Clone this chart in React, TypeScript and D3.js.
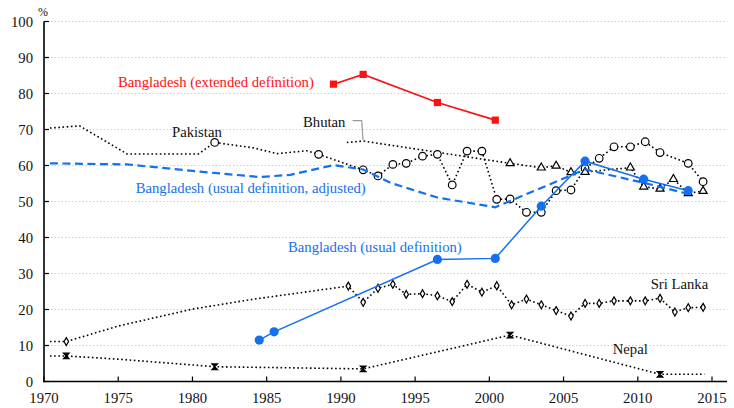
import React from "react";
import * as d3 from "d3";

// [year, value, marker(1) or not(0)]
const pakistan: [number, number, number][] = [
  [1970.4, 70.4, 0], [1972.4, 71.0, 0], [1975.6, 63.2, 0], [1980.4, 63.2, 0],
  [1981.5, 66.4, 1], [1984.1, 64.9, 0], [1985.7, 63.3, 0], [1987.7, 64.1, 0],
  [1988.5, 63.1, 1], [1991.5, 58.8, 1], [1992.5, 57.1, 1], [1993.5, 60.3, 1],
  [1994.4, 60.6, 1], [1995.5, 62.6, 1], [1996.5, 63.1, 1], [1997.5, 54.6, 1],
  [1998.5, 64.0, 1], [1999.5, 64.0, 1], [2000.5, 50.6, 1], [2001.4, 50.7, 1],
  [2002.5, 47.0, 1], [2003.5, 47.0, 1], [2004.5, 53.0, 1], [2005.5, 53.2, 1],
  [2006.45, 59.2, 1], [2007.4, 62.0, 1], [2008.4, 65.2, 1], [2009.5, 65.2, 1],
  [2010.5, 66.6, 1], [2011.5, 63.6, 1], [2013.4, 60.6, 1], [2014.4, 55.5, 1],
];

const bhutan: [number, number, number][] = [
  [1990.4, 66.4, 0], [1991.5, 66.8, 0], [2001.4, 60.6, 1], [2003.5, 59.4, 1],
  [2004.5, 59.9, 1], [2005.5, 58.1, 1], [2006.45, 58.2, 1], [2009.5, 59.4, 1],
  [2010.4, 54.1, 1], [2011.5, 53.5, 1], [2012.4, 56.2, 1], [2013.4, 52.3, 1],
  [2014.4, 52.9, 1],
];

const sriLanka: [number, number, number][] = [
  [1970.4, 11.1, 0], [1971.5, 11.1, 1], [1975.0, 15.4, 0], [1980.0, 20.1, 0],
  [1984.0, 22.8, 0], [1990.5, 26.5, 1], [1991.5, 22.0, 1], [1992.5, 25.9, 1],
  [1993.5, 27.0, 1], [1994.4, 24.2, 1], [1995.5, 24.4, 1], [1996.5, 23.8, 1],
  [1997.5, 22.2, 1], [1998.5, 27.0, 1], [1999.5, 24.8, 1], [2000.5, 26.6, 1],
  [2001.5, 21.3, 1], [2002.5, 22.9, 1], [2003.5, 21.3, 1], [2004.5, 19.7, 1],
  [2005.5, 18.2, 1], [2006.45, 21.7, 1], [2007.4, 21.7, 1], [2008.4, 22.4, 1],
  [2009.5, 22.4, 1], [2010.5, 22.4, 1], [2011.5, 23.1, 1], [2012.5, 19.3, 1],
  [2013.4, 20.5, 1], [2014.4, 20.6, 1],
];

const nepal: [number, number, number][] = [
  [1970.4, 7.1, 0], [1971.5, 7.1, 1], [1975.0, 6.2, 0], [1980.0, 4.6, 0],
  [1981.5, 4.1, 1], [1985.0, 3.9, 0], [1991.5, 3.5, 1], [2001.4, 12.9, 1],
  [2011.5, 2.0, 1], [2014.5, 2.0, 0],
];

const bdExtended: [number, number][] = [
  [1989.5, 82.6], [1991.5, 85.3], [1996.5, 77.5], [2000.4, 72.6],
];

const bdUsual: [number, number][] = [
  [1984.5, 11.5], [1985.5, 13.8], [1996.5, 33.9], [2000.4, 34.2],
  [2003.5, 48.7], [2006.45, 61.2], [2010.4, 56.2], [2013.4, 53.0],
];

const bdAdjusted: [number, number][] = [
  [1970.4, 60.6], [1975.6, 60.3], [1980.5, 58.3], [1984.5, 56.8],
  [1986.6, 57.4], [1989.5, 60.1], [1991.5, 58.9], [1993.4, 55.1],
  [1996.5, 51.1], [2000.4, 48.4], [2006.45, 58.9], [2010.4, 55.2],
  [2013.4, 52.1],
];

const xTicks = [1970, 1975, 1980, 1985, 1990, 1995, 2000, 2005, 2010, 2015];
const yTicks = [0, 10, 20, 30, 40, 50, 60, 70, 80, 90, 100];

const RED = "#ff1010";
const BLUE = "#1470f0";
const FONT = "Liberation Serif, DejaVu Serif, serif";

export default function App() {
  const W = 734, H = 408;
  const x = d3.scaleLinear().domain([1970, 2015]).range([44, 712]);
  const y = d3.scaleLinear().domain([0, 100]).range([381.5, 21.5]);
  const line = d3.line<any>().x((d) => x(d[0])).y((d) => y(d[1]));

  const dotted = { fill: "none", stroke: "#000", strokeWidth: 1.6, strokeDasharray: "1.6 2.6" };
  const tri = d3.symbol().type(d3.symbolTriangle).size(28)()!;
  const dia = d3.symbol().type(d3.symbolDiamond).size(18)()!;
  const sq = d3.symbol().type(d3.symbolSquare).size(52)()!;
  const hour = "M-2.8,-2.8L2.8,-2.8L-2.8,2.8L2.8,2.8Z";
  const ts = { fontFamily: FONT, fontSize: "14.7px" };

  return (
    <svg width={W} height={H} style={{ position: "absolute", left: 0, top: 0, background: "#fff" }}>
      {yTicks.filter((t) => t > 0).map((t) => (
        <line key={"g" + t} x1={x(1970)} x2={727} y1={y(t)} y2={y(t)}
          stroke="#cfcfcf" strokeWidth={1} strokeDasharray="1.5 2" />
      ))}

      <path d={line(pakistan)!} {...dotted} />
      <path d={line(bhutan)!} {...dotted} />
      <path d={line(sriLanka)!} {...dotted} />
      <path d={line(nepal)!} {...dotted} />

      {pakistan.filter((d) => d[2]).map((d, i) => (
        <circle key={"p" + i} cx={x(d[0])} cy={y(d[1])} r={3.8} fill="#fff" stroke="#000" strokeWidth={1.2} />
      ))}
      {bhutan.filter((d) => d[2]).map((d, i) => (
        <path key={"b" + i} d={tri} transform={`translate(${x(d[0])},${y(d[1])})`} fill="#fff" stroke="#000" strokeWidth={1.2} />
      ))}
      {sriLanka.filter((d) => d[2]).map((d, i) => (
        <path key={"s" + i} d={dia} transform={`translate(${x(d[0])},${y(d[1])})`} fill="#fff" stroke="#000" strokeWidth={1.2} />
      ))}
      {nepal.filter((d) => d[2]).map((d, i) => (
        <path key={"n" + i} d={hour} transform={`translate(${x(d[0])},${y(d[1])})`} fill="#000" stroke="#000" strokeWidth={1.2} />
      ))}

      <path d={line(bdAdjusted)!} fill="none" stroke={BLUE} strokeWidth={2.2} strokeDasharray="8 4.5" />
      <path d={line(bdUsual)!} fill="none" stroke={BLUE} strokeWidth={1.5} />
      {bdUsual.map((d, i) => (
        <circle key={"u" + i} cx={x(d[0])} cy={y(d[1])} r={4.6} fill={BLUE} />
      ))}
      <path d={line(bdExtended)!} fill="none" stroke={RED} strokeWidth={1.6} />
      {bdExtended.map((d, i) => (
        <path key={"e" + i} d={sq} transform={`translate(${x(d[0])},${y(d[1])})`} fill={RED} />
      ))}

      <polyline points={`352.5,120.7 361.7,120.7 363,140`} fill="none" stroke="#999" strokeWidth={1.2} />

      <text x={118} y={86.7} fill={RED} style={ts}>Bangladesh (extended definition)</text>
      <text x={172} y={137.3} fill="#111" style={ts}>Pakistan</text>
      <text x={303} y={126.7} fill="#111" style={ts}>Bhutan</text>
      <text x={135.7} y={192.7} fill={BLUE} style={ts}>Bangladesh (usual definition, adjusted)</text>
      <text x={288} y={252} fill={BLUE} style={ts}>Bangladesh (usual definition)</text>
      <text x={650.7} y={289} fill="#111" style={ts}>Sri Lanka</text>
      <text x={612.7} y={354} fill="#111" style={ts}>Nepal</text>

      <line x1={x(1970)} x2={x(1970)} y1={y(100)} y2={y(0) + 0.8} stroke="#000" strokeWidth={1.6} />
      <line x1={x(1970) - 0.8} x2={727} y1={y(0)} y2={y(0)} stroke="#000" strokeWidth={1.6} />
      {yTicks.map((t) => (
        <g key={"yt" + t}>
          <line x1={x(1970)} x2={x(1970) + 5} y1={y(t)} y2={y(t)} stroke="#000" strokeWidth={1.2} />
          <text x={33} y={y(t)} dy="0.35em" textAnchor="end" fill="#111" style={ts}>{t}</text>
        </g>
      ))}
      {xTicks.map((t) => (
        <g key={"xt" + t}>
          <line x1={x(t)} x2={x(t)} y1={y(0)} y2={y(0) - 5} stroke="#000" strokeWidth={1.2} />
          <text x={x(t)} y={403} textAnchor="middle" fill="#111" style={ts}>{t}</text>
        </g>
      ))}
      <text x={38} y={16} fill="#111" style={{ fontFamily: FONT, fontSize: "12px" }}>%</text>
    </svg>
  );
}
